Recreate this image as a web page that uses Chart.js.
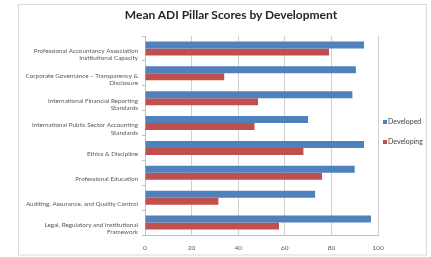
<!DOCTYPE html>
<html><head><meta charset="utf-8">
<title>Mean ADI Pillar Scores by Development</title>
<script src="https://cdn.jsdelivr.net/npm/chart.js"></script>
<style>
    html, body { margin: 0; padding: 0; background: #fff; }
    .wrap { position: relative; width: 431px; height: 257px; overflow: hidden; }
    canvas { display: block; }
    /* titulo centrado em x=231 como no original do Excel */
    .titulo { position: absolute; left: 0; top: 8px; width: 462px; text-align: center;
              font: bold 12px/14px Lato, "Liberation Sans", sans-serif; color: #262626; }
</style></head>
<body>
<div class="wrap">
    <canvas id="grafico" width="431" height="257"></canvas>
    <div class="titulo">Mean ADI Pillar Scores by Development</div>
</div>
<script>
// --- DADOS ---
const categorias = [
    ["Professional Accountancy Association", "Institutional Capacity"],
    ["Corporate Governance \u2013 Transparency &", "Disclosure"],
    ["International Financial Reporting", "Standards"],
    ["International Public Sector Accounting", "Standards"],
    "Ethics & Discipline",
    "Professional Education",
    "Auditing, Assurance, and Quality Control",
    ["Legal, Regulatory and Institutional", "Framework"]
];
const developed = [94, 90.5, 89, 70, 94, 90, 73, 97];
const developing = [79, 34, 48.5, 47, 68, 76, 31.5, 57.5];
const serieNomes = ["Developed", "Developing"];
const xTicks = [0, 20, 40, 60, 80, 100];

const AZUL = '#4F81BD';
const VERMELHO = '#C0504D';
const FONTE = 'Lato, "Liberation Sans", sans-serif';

// moldura cinza em volta do grafico
const moldura = {
    id: 'moldura',
    beforeDraw(chart) {
        const ctx = chart.ctx;
        ctx.save();
        ctx.fillStyle = '#fff';
        ctx.fillRect(0, 0, chart.width, chart.height);
        ctx.strokeStyle = '#d9d9d9';
        ctx.lineWidth = 1;
        ctx.strokeRect(18.5, 4.5, 408, 250.5);
        ctx.restore();
    }
};

// legenda estilo Excel, a direita
const legenda = {
    id: 'legenda',
    afterDraw(chart) {
        const ctx = chart.ctx;
        ctx.save();
        ctx.font = '7px ' + FONTE;
        ctx.textBaseline = 'middle';
        chart.data.datasets.forEach((ds, i) => {
            const y = 122 + i * 20;
            ctx.fillStyle = ds.backgroundColor;
            ctx.fillRect(383, y - 2, 4, 4);
            ctx.fillStyle = '#404040';
            ctx.fillText(ds.label, 388, y);
        });
        ctx.restore();
    }
};

const ctx = document.getElementById('grafico').getContext('2d');
new Chart(ctx, {
    type: 'bar',
    data: {
        labels: categorias,
        datasets: [
            { label: serieNomes[0], data: developed, backgroundColor: AZUL },
            { label: serieNomes[1], data: developing, backgroundColor: VERMELHO }
        ]
    },
    options: {
        indexAxis: 'y',
        responsive: false,
        animation: false,
        devicePixelRatio: 1,
        layout: { padding: { top: 36, left: 20, right: 53, bottom: 0 } },
        datasets: { bar: { categoryPercentage: 0.56, barPercentage: 1.0 } },
        scales: {
            x: {
                min: 0, max: 100,
                afterFit: (s) => { s.height = 22; },
                afterBuildTicks: (s) => { s.ticks = xTicks.map(v => ({ value: v })); },
                grid: { color: '#d0d0d0', drawTicks: false },
                border: { color: '#bfbfbf' },
                ticks: { color: '#595959', padding: 9, font: { family: FONTE, size: 6.5 } }
            },
            y: {
                afterFit: (s) => { s.width = 125; },
                grid: { drawOnChartArea: false, drawTicks: true, tickLength: 3, color: '#bfbfbf' },
                border: { color: '#bfbfbf' },
                ticks: {
                    color: '#595959', padding: 4, labelOffset: 6, autoSkip: false,
                    font: { family: FONTE, size: 6.3, lineHeight: 1.15 }
                }
            }
        },
        plugins: {
            legend: { display: false },
            tooltip: { enabled: false },
            title: { display: false }
        }
    },
    plugins: [moldura, legenda]
});
</script></body></html>
